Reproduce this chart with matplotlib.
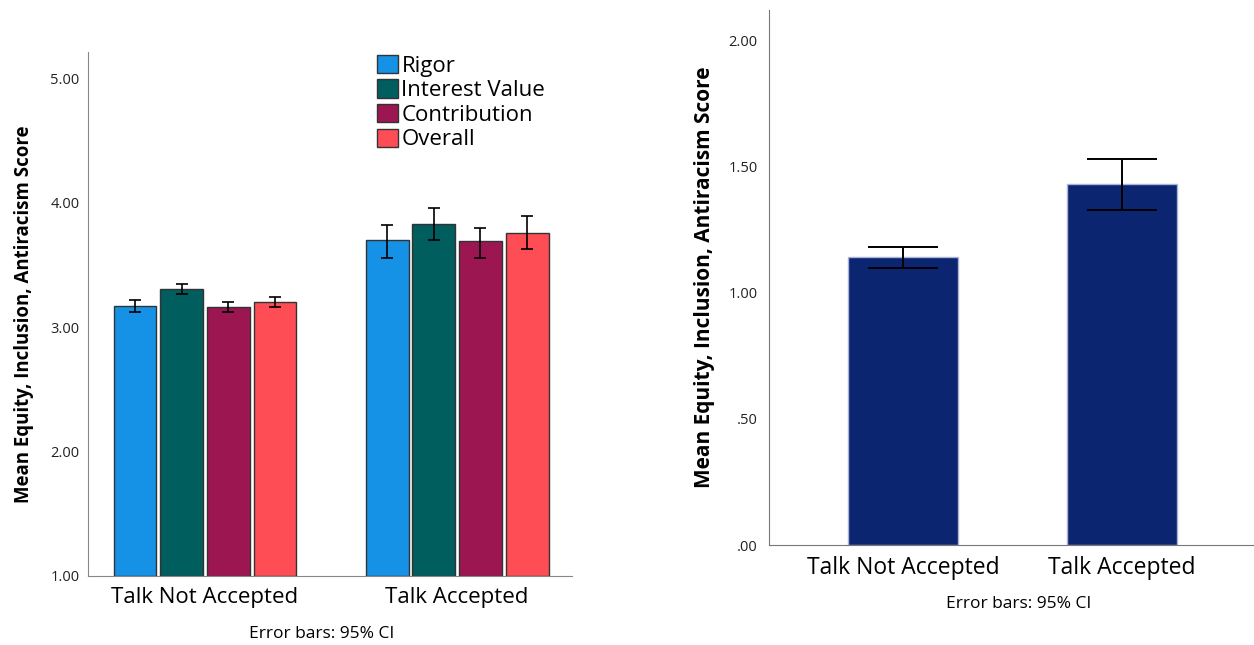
import numpy as np
import matplotlib
matplotlib.use("Agg")
import matplotlib.pyplot as plt
from matplotlib.ticker import FuncFormatter

plt.rcParams['font.family'] = ['Open Sans', 'DejaVu Sans']

# data
groups = ['Talk Not Accepted', 'Talk Accepted']
series = ['Rigor', 'Interest Value', 'Contribution', 'Overall']
means = {
    'Rigor': [3.17, 3.70],
    'Interest Value': [3.31, 3.83],
    'Contribution': [3.16, 3.69],
    'Overall': [3.20, 3.76],
}
ci_low = {
    'Rigor': [3.12, 3.56],
    'Interest Value': [3.27, 3.70],
    'Contribution': [3.12, 3.56],
    'Overall': [3.16, 3.63],
}
ci_high = {
    'Rigor': [3.22, 3.82],
    'Interest Value': [3.35, 3.96],
    'Contribution': [3.20, 3.80],
    'Overall': [3.24, 3.89],
}
colors = ['#1591e5', '#005e5e', '#9c1651', '#ff4d55']

overall_means = [1.14, 1.43]
overall_low = [1.10, 1.33]
overall_high = [1.18, 1.53]

left_ticks = [1.0, 2.0, 3.0, 4.0, 5.0]
right_ticks = [0.0, 0.5, 1.0, 1.5, 2.0]
ylabel = 'Mean Equity, Inclusion, Antiracism Score'

fig = plt.figure(figsize=(12.54, 6.45), dpi=100)

# ---- left chart: grouped bars
ax1 = fig.add_axes([0.0702, 0.107, 0.386, 0.812])
x = np.arange(len(groups))
w = 0.17
step = 0.185
for i, (name, c) in enumerate(zip(series, colors)):
    xs = x + (i - 1.5) * step
    m = np.array(means[name])
    lo = m - np.array(ci_low[name])
    hi = np.array(ci_high[name]) - m
    ax1.bar(xs, m - 1.0, bottom=1.0, width=w, color=c, edgecolor='#333333',
            linewidth=1.0, label=name, zorder=2)
    ax1.errorbar(xs, m, yerr=[lo, hi], fmt='none', ecolor='black',
                 elinewidth=1.2, capsize=4, capthick=1.2, zorder=3)

ax1.set_xlim(-0.464, 1.456)
ax1.set_ylim(1.0, 5.21)
ax1.set_yticks(left_ticks)
ax1.yaxis.set_major_formatter(FuncFormatter(lambda v, p: f'{v:.2f}'))
ax1.set_xticks(x)
ax1.set_xticklabels(groups, fontsize=16)
ax1.tick_params(axis='y', length=0, labelsize=10.5, pad=6, colors='#222222')
ax1.tick_params(axis='x', length=0, pad=8)
ax1.set_ylabel(ylabel, fontsize=13.4, fontweight='bold', labelpad=12)
for s in ['top', 'right']:
    ax1.spines[s].set_visible(False)
for s in ['left', 'bottom']:
    ax1.spines[s].set_color('#888888')
ax1.legend(loc='upper left', bbox_to_anchor=(0.597, 0.995), frameon=False,
           fontsize=16, handlelength=0.95, handleheight=0.9, handletextpad=0.15,
           labelspacing=0.12, borderaxespad=0, borderpad=0)
fig.text(322 / 1254, 1 - 634 / 645, 'Error bars: 95% CI', ha='center',
         va='center', fontsize=12.5)

# ---- right chart: overall score
ax2 = fig.add_axes([0.6132, 0.155, 0.3868, 0.829])
x2 = np.arange(len(groups))
om = np.array(overall_means)
ax2.bar(x2, om, width=0.5, color='#0b2570', edgecolor='#aab4d6', linewidth=1.0,
        zorder=2)
ax2.errorbar(x2, om, yerr=[om - np.array(overall_low), np.array(overall_high) - om],
             fmt='none', ecolor='black', elinewidth=1.4, capsize=25, capthick=1.4,
             zorder=3)
ax2.set_xlim(-0.612, 1.603)
ax2.set_ylim(0.0, 2.12)
ax2.set_yticks(right_ticks)
ax2.yaxis.set_major_formatter(
    FuncFormatter(lambda v, p: f'{v:.2f}'.lstrip('0') if v < 1 else f'{v:.2f}'))
ax2.set_xticks(x2)
ax2.set_xticklabels(groups, fontsize=16.5)
ax2.tick_params(axis='y', length=0, labelsize=10.5, pad=8, colors='#222222')
ax2.tick_params(axis='x', length=0, pad=8)
ax2.set_ylabel(ylabel, fontsize=15, fontweight='bold', labelpad=10)
for s in ['top', 'right']:
    ax2.spines[s].set_visible(False)
for s in ['left', 'bottom']:
    ax2.spines[s].set_color('#777777')
fig.text(1019 / 1254, 1 - 604 / 645, 'Error bars: 95% CI', ha='center',
         va='center', fontsize=12.5)

fig.savefig('out.png', dpi=100)
